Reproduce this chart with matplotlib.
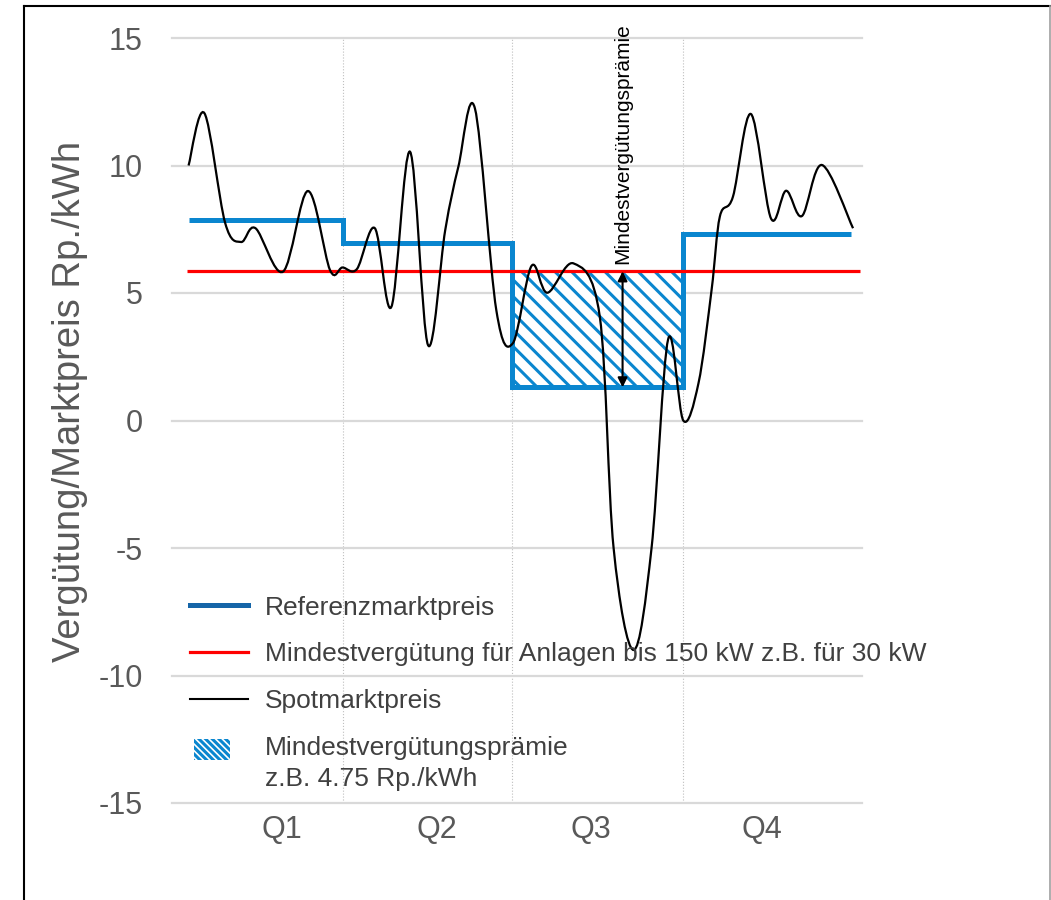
import numpy as np
import matplotlib
matplotlib.use('Agg')
import matplotlib.pyplot as plt
from matplotlib.path import Path
from matplotlib.patches import PathPatch, Patch, Rectangle
from matplotlib.lines import Line2D
from matplotlib.legend_handler import HandlerPatch

plt.rcParams['font.family'] = ['Liberation Sans', 'DejaVu Sans']
plt.rcParams['axes.unicode_minus'] = False
plt.rcParams['hatch.linewidth'] = 2.2

# --- data (x in "percent of year", y in Rp./kWh) ---
quarter_labels = ['Q1', 'Q2', 'Q3', 'Q4']
quarter_label_x = [15.9, 38.4, 60.7, 85.5]
quarter_bounds = [24.8, 49.3, 74.1]

ref_edges = [2.4, 24.8, 49.3, 74.1, 98.4]
ref_price = [7.85, 6.95, 1.3, 7.33]

min_payment = 5.85
min_payment_x = [2.2, 99.7]

spot_x = [2.4, 4.7, 7.7, 10.0, 12.1, 16.1, 19.7, 22.9, 24.7, 26.8,
          29.4, 31.8, 34.5, 37.1, 39.6, 41.5, 43.9, 47.0, 49.4, 52.1,
          54.4, 58.2, 62.0, 64.0, 66.9, 69.5, 71.9, 74.1, 76.3, 78.2,
          79.4, 81.3, 83.9, 86.8, 89.0, 91.3, 94.2, 98.7]
spot_y = [10.0, 12.05, 7.75, 7.0, 7.54, 5.84, 9.0, 5.9, 6.0, 5.94,
          7.54, 4.46, 10.54, 2.96, 7.47, 9.95, 12.24, 4.33, 3.03, 6.06,
          5.01, 6.16, 4.07, -5.0, -9.0, -5.0, 3.18, 0.0, 1.46, 5.12,
          8.0, 8.78, 12.02, 7.93, 9.01, 8.02, 10.02, 7.54]

arrow_x = 65.3

blue = '#0A86CF'
blue_dark = '#1565A8'
grey_txt = '#595959'


def smooth_path(x, y):
    # smoothed line like the spreadsheet one: bezier through every point
    p = np.column_stack([x, y])
    ext = np.vstack([p[0], p, p[-1]])
    verts = [p[0]]
    codes = [Path.MOVETO]
    for i in range(len(p) - 1):
        p0, p1, p2, p3 = ext[i], ext[i + 1], ext[i + 2], ext[i + 3]
        verts += [p1 + (p2 - p0) / 6, p2 - (p3 - p1) / 6, p2]
        codes += [Path.CURVE4] * 3
    return Path(verts, codes)


fig = plt.figure(figsize=(10.51, 9.0), dpi=100)
ax = fig.add_axes([172 / 1051, 1 - 803 / 900, 690 / 1051, 765 / 900])

ax.set_xlim(0, 100)
ax.set_ylim(-15, 15)
for s in ax.spines.values():
    s.set_visible(False)

ax.set_yticks(np.arange(-15, 16, 5))
ax.set_yticklabels([str(v) for v in np.arange(-15, 16, 5)])
ax.set_xticks(quarter_label_x)
ax.set_xticklabels(quarter_labels)
ax.tick_params(axis='y', length=0, pad=21, labelsize=22, labelcolor=grey_txt)
ax.tick_params(axis='x', length=0, pad=9, labelsize=22, labelcolor=grey_txt)
ax.grid(axis='y', color='#D9D9D9', lw=1.6, zorder=0)
for gl in ax.get_ygridlines():
    gl.set_clip_on(False)
ax.set_axisbelow(True)
ax.vlines(quarter_bounds, -15, 15, color='#BFBFBF', lw=0.8, ls=':', zorder=0.5)

# hatched premium area in Q3
ax.fill_between([ref_edges[2], ref_edges[3]], ref_price[2], min_payment,
                facecolor='white', edgecolor=blue, hatch='\\\\', lw=0, zorder=1)

ax.stairs(ref_price, ref_edges, baseline=None, color=blue, lw=3.6, zorder=3)
ax.hlines(min_payment, min_payment_x[0], min_payment_x[1], color='#FF0000', lw=2.3, zorder=4)
ax.add_patch(PathPatch(smooth_path(spot_x, spot_y), fill=False, ec='black', lw=1.6, zorder=5))

ax.annotate('', xy=(arrow_x, ref_price[2]), xytext=(arrow_x, min_payment),
            arrowprops=dict(arrowstyle='<|-|>', color='black', lw=1.5,
                            mutation_scale=14, shrinkA=0, shrinkB=0), zorder=6)
ax.text(arrow_x, min_payment + 0.3, 'Mindestvergütungsprämie', rotation=90,
        ha='center', va='bottom', fontsize=15, color='black', clip_on=False)

fig.text(70 / 1051, 1 - 401 / 900, 'Vergütung/Marktpreis Rp./kWh', rotation=90,
         ha='center', va='center', fontsize=27.5, color=grey_txt)


def small_patch(legend, orig_handle, xdescent, ydescent, width, height, fontsize):
    return Rectangle((3 - xdescent, height * 0.7 - ydescent), width * 0.62, height * 1.15)


handles = [Line2D([], [], color=blue_dark, lw=3.6),
           Line2D([], [], color='#FF0000', lw=2.3),
           Line2D([], [], color='black', lw=1.5),
           Patch(facecolor='white', edgecolor=blue, hatch='\\\\\\\\\\', lw=0)]
labels = ['Referenzmarktpreis',
          'Mindestvergütung für Anlagen bis 150 kW z.B. für 30 kW',
          'Spotmarktpreis',
          'Mindestvergütungsprämie\nz.B. 4.75 Rp./kWh']
leg = ax.legend(handles, labels, loc='upper left', bbox_to_anchor=(0.026, 0.271),
                frameon=False, fontsize=19, labelcolor='#404040', borderpad=0,
                borderaxespad=0, handlelength=2.2, handletextpad=0.65,
                labelspacing=0.86,
                handler_map={Patch: HandlerPatch(patch_func=small_patch)})
leg.get_texts()[3].set_linespacing(1.4)

# outer frame of the picture
fig.add_artist(Line2D([23.5 / 1051, 23.5 / 1051], [0, 1 - 5.5 / 900], color='black', lw=1.5,
                      transform=fig.transFigure))
fig.add_artist(Line2D([23.5 / 1051, 1049.5 / 1051], [1 - 5.5 / 900, 1 - 5.5 / 900], color='black',
                      lw=1.5, transform=fig.transFigure))
fig.add_artist(Line2D([1049.5 / 1051, 1049.5 / 1051], [0, 1 - 5.5 / 900], color='#A0A0A0', lw=1.2,
                      transform=fig.transFigure))

fig.savefig('out.png', dpi=100)
